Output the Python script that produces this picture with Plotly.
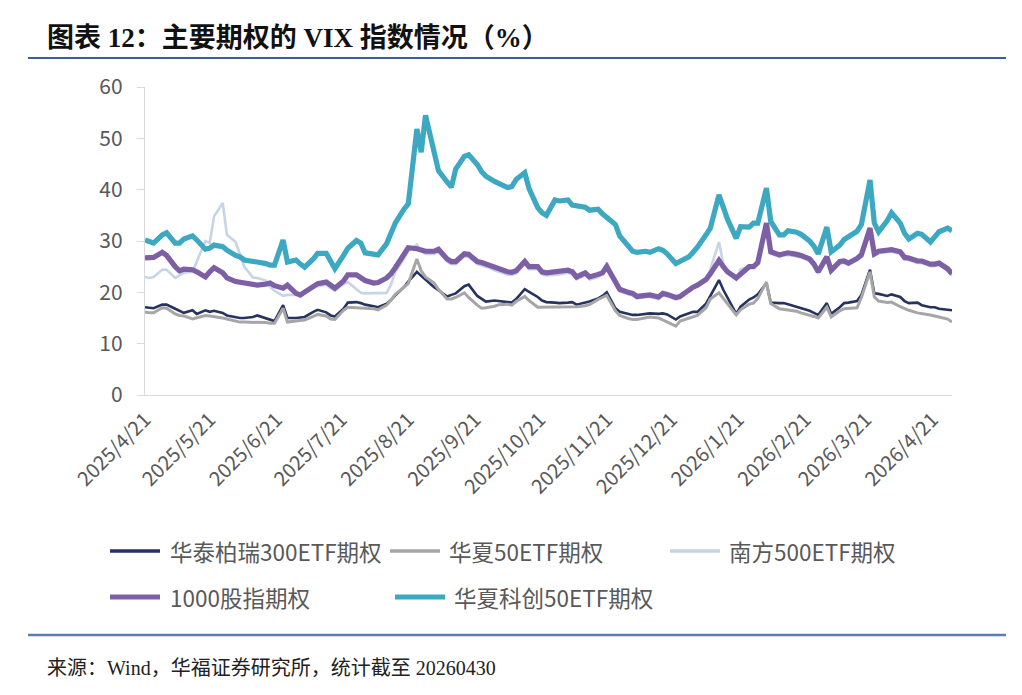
import pandas as pd
import plotly.graph_objects as go

# every second trading day from 2025-04-21 to 2026-04-30
dates = pd.bdate_range("2025-04-21", "2026-04-30")[::2]

s300 = [17.1, 17.0, 16.9, 17.6, 17.6, 16.8, 16.4, 16.0, 16.5, 15.8,
        16.5, 16.2, 16.4, 16.0, 15.5, 15.1, 15.0, 15.0, 15.2, 15.5,
        15.0, 14.8, 14.4, 17.5, 15.0, 15.0, 15.1, 15.2, 16.2, 16.6,
        16.1, 15.5, 15.3, 16.8, 18.0, 18.1, 17.9, 17.6, 17.3, 17.1,
        17.8, 18.5, 19.4, 21.0, 22.1, 24.0, 23.2, 22.4, 21.0, 20.4,
        19.2, 19.5, 19.8, 21.2, 21.5, 19.3, 18.7, 18.2, 18.4, 18.3,
        18.0, 18.0, 18.7, 20.6, 20.1, 19.1, 18.4, 18.1, 18.0, 17.9,
        18.0, 18.1, 17.6, 18.0, 18.2, 18.8, 19.3, 20.0, 16.9, 16.2,
        15.7, 15.6, 15.6, 15.8, 15.9, 15.8, 15.9, 15.7, 14.7, 15.3,
        15.8, 16.2, 16.2, 17.8, 19.3, 22.4, 20.5, 18.9, 15.8, 17.2,
        18.6, 19.0, 19.6, 21.8, 18.0, 17.9, 17.9, 17.7, 17.2, 17.0,
        16.4, 16.0, 15.6, 17.9, 15.8, 17.1, 17.9, 18.0, 18.3, 19.5,
        24.4, 19.8, 19.7, 19.3, 19.6, 19.1, 18.3, 17.9, 18.0, 17.5,
        17.1, 17.1, 16.8, 16.6, 16.5]

s50 = [16.2, 16.0, 16.0, 17.0, 16.9, 15.8, 15.5, 15.4, 14.8, 15.0,
       15.5, 15.4, 15.3, 15.0, 14.8, 14.4, 14.2, 14.2, 14.2, 14.2,
       14.1, 14.0, 14.0, 16.9, 14.2, 14.4, 14.5, 14.6, 15.3, 15.7,
       15.4, 14.8, 14.7, 16.5, 17.1, 17.0, 16.9, 16.9, 16.8, 16.6,
       17.5, 18.5, 19.6, 21.0, 21.7, 26.5, 24.2, 23.0, 21.8, 20.6,
       18.7, 18.7, 19.0, 19.9, 19.0, 17.5, 16.9, 17.0, 17.3, 17.6,
       17.7, 17.5, 18.2, 19.2, 18.4, 17.1, 17.1, 17.1, 17.1, 17.1,
       17.1, 17.1, 17.2, 17.4, 17.6, 18.6, 19.0, 19.4, 16.4, 15.5,
       14.9, 14.7, 14.7, 15.0, 15.2, 15.0, 14.6, 14.1, 13.4, 14.4,
       14.9, 15.2, 15.5, 17.0, 18.7, 19.9, 18.8, 17.6, 15.6, 16.6,
       17.7, 17.9, 18.8, 22.0, 17.8, 16.8, 16.7, 16.6, 16.3, 16.0,
       15.6, 15.3, 15.0, 17.1, 15.2, 16.4, 16.8, 16.9, 17.0, 19.0,
       24.0, 19.1, 18.3, 18.0, 18.1, 17.2, 16.8, 16.5, 16.0, 15.9,
       15.6, 15.4, 15.2, 14.8, 14.2]

s500 = [23.0, 22.8, 23.0, 24.4, 24.4, 22.8, 23.3, 23.8, 24.0, 26.0,
        30.0, 29.6, 34.8, 37.4, 31.2, 29.8, 27.5, 25.0, 22.9, 22.8,
        22.3, 21.0, 20.3, 19.3, 19.5, 19.5, 19.1, 19.8, 20.8, 21.2,
        21.5, 20.8, 20.3, 21.6, 22.0, 20.5, 19.9, 19.8, 19.8, 19.8,
        19.9, 21.5, 24.0, 26.5, 28.0, 29.3, 28.0, 27.5, 27.5, 27.9,
        26.0, 25.5, 25.5, 27.0, 26.9, 25.5, 25.3, 25.0, 24.3, 24.0,
        23.5, 23.4, 23.7, 25.5, 24.5, 24.5, 23.5, 23.3, 23.4, 23.5,
        23.8, 23.5, 22.5, 23.3, 22.5, 23.0, 23.5, 25.8, 21.5, 20.2,
        19.6, 19.4, 18.8, 19.1, 19.1, 18.7, 19.4, 19.2, 18.6, 18.8,
        20.5, 21.2, 21.6, 22.8, 24.5, 29.8, 25.6, 24.0, 22.5, 24.5,
        25.0, 24.8, 25.5, 32.5, 27.5, 26.9, 27.2, 27.3, 27.0, 26.8,
        26.1, 25.1, 23.6, 26.5, 23.9, 25.6, 25.7, 25.3, 26.2, 26.9,
        31.5, 27.1, 27.6, 27.8, 27.9, 27.5, 26.4, 26.3, 25.7, 25.7,
        25.1, 25.1, 25.3, 24.2, 23.3]

s1000 = [26.7, 26.7, 26.8, 27.8, 27.2, 25.0, 24.2, 24.5, 24.4, 24.0,
         23.0, 24.0, 24.8, 23.8, 22.8, 22.1, 22.0, 21.9, 21.6, 21.4,
         21.6, 21.8, 21.3, 20.8, 21.4, 19.8, 19.5, 20.1, 21.4, 21.7,
         22.0, 21.3, 20.8, 22.2, 23.4, 23.4, 22.8, 22.3, 21.8, 21.9,
         22.8, 23.6, 24.8, 27.3, 28.7, 28.5, 28.3, 28.0, 28.0, 28.4,
         26.5, 26.0, 26.0, 27.5, 27.4, 26.0, 25.8, 25.5, 24.8, 24.5,
         24.0, 23.9, 24.2, 26.0, 25.0, 25.0, 24.0, 23.8, 23.9, 24.0,
         24.3, 24.0, 23.0, 23.8, 23.0, 23.5, 23.8, 25.0, 21.8, 20.6,
         20.0, 19.8, 19.2, 19.5, 19.5, 19.1, 19.8, 19.6, 19.0, 19.2,
         20.5, 21.0, 21.4, 22.5, 23.6, 26.2, 25.0, 24.0, 22.8, 23.5,
         25.0, 25.0, 25.8, 33.5, 27.9, 27.3, 27.6, 27.7, 27.4, 27.2,
         26.5, 25.5, 24.0, 26.9, 24.3, 26.0, 26.1, 25.7, 26.6, 27.3,
         32.5, 27.5, 28.0, 28.2, 28.3, 27.9, 26.8, 26.7, 26.1, 26.1,
         25.5, 25.5, 25.7, 24.6, 23.6]

skc50 = [30.2, 29.8, 29.6, 31.2, 31.6, 29.6, 29.6, 30.4, 31.0, 30.2,
         28.4, 28.6, 29.2, 28.9, 28.2, 27.2, 26.9, 26.3, 25.9, 25.9,
         25.6, 25.3, 25.3, 30.2, 25.9, 26.3, 25.5, 24.9, 26.5, 27.6,
         27.6, 25.8, 24.6, 27.2, 28.6, 30.1, 29.6, 27.7, 27.3, 27.3,
         29.5, 31.5, 33.5, 36.2, 37.2, 51.8, 47.3, 54.5, 47.7, 43.7,
         41.5, 40.5, 44.0, 46.5, 46.8, 44.9, 43.5, 42.6, 41.6, 41.2,
         40.4, 40.6, 42.0, 43.3, 40.2, 36.5, 35.5, 35.0, 38.0, 37.8,
         38.0, 37.0, 36.8, 36.6, 36.0, 36.2, 35.3, 34.7, 33.2, 31.0,
         28.8, 28.0, 27.8, 28.0, 27.8, 28.5, 28.2, 27.5, 25.6, 26.0,
         26.9, 27.8, 28.8, 31.2, 32.5, 39.0, 36.6, 34.2, 30.5, 32.8,
         32.7, 33.5, 33.5, 40.3, 33.8, 31.2, 31.2, 32.0, 31.7, 31.3,
         30.0, 29.0, 27.5, 32.7, 27.9, 29.2, 30.3, 30.9, 31.9, 33.2,
         41.9, 33.5, 31.8, 34.0, 35.5, 33.5, 31.5, 30.4, 31.5, 31.3,
         29.8, 30.8, 31.8, 32.5, 32.0]

names = ["华泰柏瑞300ETF期权", "华夏50ETF期权", "南方500ETF期权", "1000股指期权", "华夏科创50ETF期权"]
series = [s300, s50, s500, s1000, skc50]
colors = ["#27335F", "#A6A6A6", "#C6D4E8", "#7D5FA6", "#3CA8C1"]
widths = [2.6, 3.0, 2.6, 5.2, 5.2]

tick_dates = ["2025-04-21", "2025-05-21", "2025-06-21", "2025-07-21", "2025-08-21",
              "2025-09-21", "2025-10-21", "2025-11-21", "2025-12-21", "2026-01-21",
              "2026-02-21", "2026-03-21", "2026-04-21"]
tick_text = ["2025/4/21", "2025/5/21", "2025/6/21", "2025/7/21", "2025/8/21",
             "2025/9/21", "2025/10/21", "2025/11/21", "2025/12/21", "2026/1/21",
             "2026/2/21", "2026/3/21", "2026/4/21"]

W, H = 1022, 695
L, R, T, B = 145, 952, 87, 395

def px(x):
    return (x - L) / (R - L)

def py(y):
    return (B - y) / (B - T)

fig = go.Figure()
for n, s, c, w in zip(names, series, colors, widths):
    fig.add_trace(go.Scatter(x=dates, y=s, name=n, mode="lines",
                             line=dict(color=c, width=w), showlegend=False))

CJK = "Noto Sans CJK SC, Noto Sans, sans-serif"
GRAY = "#595959"

fig.update_layout(
    width=W, height=H,
    margin=dict(l=L, r=W - R, t=T, b=H - B),
    paper_bgcolor="white", plot_bgcolor="white",
    xaxis=dict(type="date", range=["2025-04-21", "2026-04-30"],
               tickvals=tick_dates, ticktext=tick_text, tickangle=-45,
               showgrid=False, zeroline=False, showline=True, linecolor="#D9D9D9",
               linewidth=1.3, ticks="", ticklabelstandoff=4,
               tickfont=dict(family=CJK, size=20, color=GRAY)),
    yaxis=dict(range=[0, 60], dtick=10, showgrid=False, zeroline=False,
               showline=True, linecolor="#D9D9D9", linewidth=1.3,
               ticks="outside", ticklen=7, tickcolor="#D9D9D9",
               ticklabelstandoff=10,
               tickfont=dict(family=CJK, size=21, color=GRAY)),
)

shapes = []
annotations = []

# title and rules
annotations.append(dict(text="<b>图表 12：主要期权的 VIX 指数情况（%）</b>",
                        xref="paper", yref="paper", x=px(45), y=py(38),
                        xanchor="left", yanchor="middle", showarrow=False,
                        font=dict(family="Liberation Serif, Noto Sans CJK SC", size=27, color="#111111")))
shapes.append(dict(type="line", xref="paper", yref="paper", x0=px(28), x1=px(1006),
                   y0=py(58), y1=py(58), line=dict(color="#3A5F9F", width=2)))
shapes.append(dict(type="line", xref="paper", yref="paper", x0=px(28), x1=px(1006),
                   y0=py(635), y1=py(635), line=dict(color="#5B7DB3", width=2.5)))
annotations.append(dict(text="来源：Wind，华福证券研究所，统计截至 20260430",
                        xref="paper", yref="paper", x=px(45), y=py(668),
                        xanchor="left", yanchor="middle", showarrow=False,
                        font=dict(family="Liberation Serif, Noto Sans CJK SC", size=20, color="#222222")))

# legend
leg = [(0, 110, 160, 168, 551), (1, 390, 440, 447, 551), (2, 670, 720, 727, 551),
       (3, 110, 160, 168, 597), (4, 395, 445, 452, 597)]
for i, x0, x1, xt, yy in leg:
    shapes.append(dict(type="line", xref="paper", yref="paper", x0=px(x0), x1=px(x1),
                       y0=py(yy), y1=py(yy),
                       line=dict(color=colors[i], width=max(widths[i], 3.5))))
    annotations.append(dict(text=names[i], xref="paper", yref="paper", x=px(xt), y=py(yy),
                            xanchor="left", yanchor="middle", showarrow=False,
                            font=dict(family=CJK, size=22.5, color=GRAY)))

fig.update_layout(shapes=shapes, annotations=annotations)
fig.write_html("out.html")
